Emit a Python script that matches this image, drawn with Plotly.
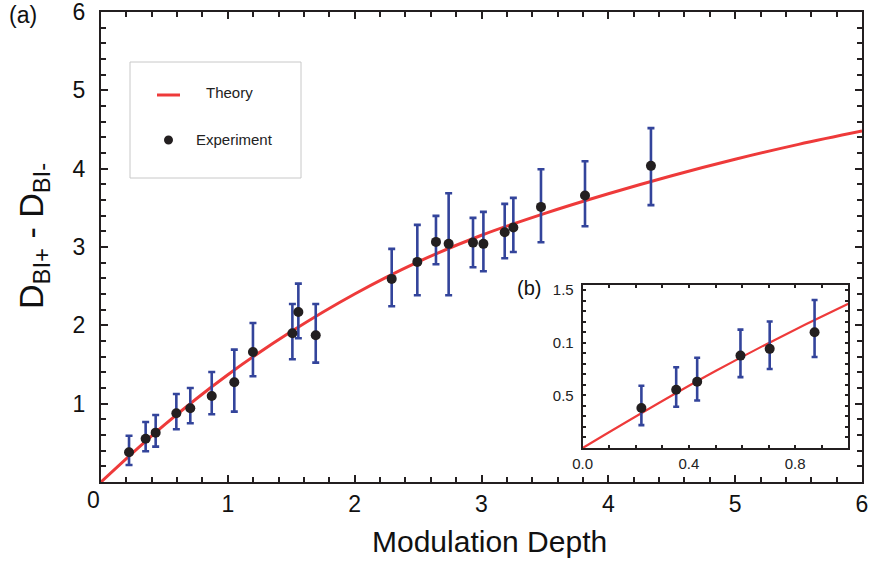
import plotly.graph_objects as go

# ---- data ----
mod_depth = [0.221, 0.352, 0.431, 0.594, 0.704, 0.873, 1.051, 1.198, 1.509, 1.556, 1.693,
             2.292, 2.494, 2.641, 2.741, 2.933, 3.015, 3.183, 3.251, 3.469, 3.816, 4.336]
d_diff = [0.379, 0.553, 0.630, 0.877, 0.941, 1.098, 1.273, 1.660, 1.899, 2.171, 1.873,
          2.593, 2.810, 3.065, 3.040, 3.056, 3.040, 3.189, 3.248, 3.512, 3.657, 4.036]
err_upper = [0.591, 0.766, 0.856, 1.124, 1.200, 1.405, 1.690, 2.030, 2.273, 2.533, 2.273,
             2.976, 3.282, 3.397, 3.687, 3.372, 3.448, 3.550, 3.627, 3.993, 4.095, 4.517]
err_lower = [0.217, 0.392, 0.451, 0.673, 0.750, 0.864, 0.898, 1.350, 1.567, 1.835, 1.524,
             2.244, 2.384, 2.780, 2.384, 2.742, 2.690, 2.857, 2.937, 3.061, 3.265, 3.534]

theory_x = [0.0, 0.5, 1.0, 1.5, 2.0, 2.5, 3.0, 3.5, 4.0, 4.5, 5.0, 5.5, 6.0]
theory_y = [0.0, 0.73, 1.37, 1.92, 2.40, 2.81, 3.15, 3.43, 3.68, 3.91, 4.12, 4.31, 4.48]

main_xticks = [1, 2, 3, 4, 5, 6]
main_yticks = [1, 2, 3, 4, 5, 6]
inset_xticks = [0.0, 0.4, 0.8]
inset_xticktext = ["0.0", "0.4", "0.8"]
inset_yticks = [0.5, 1.0, 1.5]
inset_yticktext = ["0.5", "0.1", "1.5"]

# ---- styling ----
W, H = 871, 563
ML, MR, MT, MB = 101, 9, 12, 81
PW, PH = W - ML - MR, H - MT - MB
FONT = "Liberation Sans, Arial, Helvetica, sans-serif"
AX = "#231f20"
RED = "#ee3a3a"
BLUE = "#33449b"
DOT = "#231f20"


def px(x):
    return (x - ML) / PW


def py(y):
    return (H - MB - y) / PH


err_plus = [u - v for u, v in zip(err_upper, d_diff)]
err_minus = [v - l for v, l in zip(d_diff, err_lower)]

inset_idx = [i for i, xv in enumerate(mod_depth) if xv <= 1.0]

fig = go.Figure()

# main theory
fig.add_trace(go.Scatter(x=theory_x, y=theory_y, mode="lines",
                         line=dict(color=RED, width=3, shape="spline"),
                         xaxis="x", yaxis="y", showlegend=False, hoverinfo="skip"))
# main experiment
fig.add_trace(go.Scatter(x=mod_depth, y=d_diff, mode="markers",
                         marker=dict(color=DOT, size=10),
                         error_y=dict(type="data", symmetric=False, array=err_plus,
                                      arrayminus=err_minus, color=BLUE, thickness=2.6, width=3.5),
                         xaxis="x", yaxis="y", showlegend=False))

# inset theory
fig.add_trace(go.Scatter(x=theory_x, y=theory_y, mode="lines",
                         line=dict(color=RED, width=2.2, shape="spline"),
                         xaxis="x2", yaxis="y2", showlegend=False, hoverinfo="skip"))
# inset experiment
fig.add_trace(go.Scatter(x=[mod_depth[i] for i in inset_idx],
                         y=[d_diff[i] for i in inset_idx], mode="markers",
                         marker=dict(color=DOT, size=10),
                         error_y=dict(type="data", symmetric=False,
                                      array=[err_plus[i] for i in inset_idx],
                                      arrayminus=[err_minus[i] for i in inset_idx],
                                      color=BLUE, thickness=2.6, width=3),
                         xaxis="x2", yaxis="y2", showlegend=False))

main_axis = dict(showline=True, linecolor=AX, linewidth=2, mirror="ticks",
                 ticks="inside", ticklen=7, tickwidth=2, tickcolor=AX,
                 showgrid=False, zeroline=False, automargin=False,
                 ticklabeloverflow="allow",
                 tickfont=dict(family=FONT, size=23, color="#111"),
                 minor=dict(dtick=0.2, tick0=0, ticks="inside", ticklen=5, tickwidth=2,
                            tickcolor=AX, showgrid=False))

inset_axis = dict(showline=True, linecolor=AX, linewidth=2, mirror="ticks",
                  ticks="inside", ticklen=3, tickwidth=1.5, tickcolor=AX,
                  showgrid=False, zeroline=False, automargin=False,
                  ticklabeloverflow="allow",
                  tickfont=dict(family=FONT, size=15, color="#222"),
                  minor=dict(dtick=0.1, tick0=0, ticks="inside", ticklen=3, tickwidth=1.5,
                             tickcolor=AX, showgrid=False))

fig.update_layout(
    width=W, height=H,
    margin=dict(l=ML, r=MR, t=MT, b=MB, pad=0, autoexpand=False),
    paper_bgcolor="white", plot_bgcolor="white",
    showlegend=False,
    xaxis=dict(main_axis, range=[0, 6], tickvals=main_xticks, domain=[0, 1],
               anchor="y", ticklabelstandoff=0),
    yaxis=dict(main_axis, range=[0, 6], tickvals=main_yticks, domain=[0, 1],
               anchor="x", ticklabelstandoff=9),
    xaxis2=dict(inset_axis, range=[0, 1.0], tickvals=inset_xticks, ticktext=inset_xticktext,
                domain=[px(582.7), px(848.3)], anchor="y2", ticklabelstandoff=1),
    yaxis2=dict(inset_axis, range=[0, 1.55], tickvals=inset_yticks, ticktext=inset_yticktext,
                domain=[py(448), py(284.7)], anchor="x2", ticklabelstandoff=4),
)

annotations = [
    # x-axis "0" label, set slightly left of the corner as in the reference
    dict(text="0", x=0, y=0, xref="x", yref="y", xanchor="center", yanchor="top",
         xshift=-8, yshift=-3, showarrow=False, font=dict(family=FONT, size=23, color="#111")),
    dict(text="Modulation Depth", x=px(489), y=py(541), xref="paper", yref="paper",
         xanchor="center", yanchor="middle", showarrow=False,
         font=dict(family=FONT, size=30, color="#111")),
    dict(text="D<sub>BI+</sub> - D<sub>BI-</sub>", x=px(33), y=py(236), xref="paper", yref="paper",
         xanchor="center", yanchor="middle", textangle=-90, showarrow=False,
         font=dict(family=FONT, size=34, color="#111")),
    dict(text="(a)", x=px(23), y=py(15), xref="paper", yref="paper",
         xanchor="center", yanchor="middle", showarrow=False,
         font=dict(family=FONT, size=23, color="#111")),
    dict(text="(b)", x=px(529), y=py(288), xref="paper", yref="paper",
         xanchor="center", yanchor="middle", showarrow=False,
         font=dict(family=FONT, size=20, color="#111")),
    dict(text="Theory", x=px(204), y=py(93), xref="paper", yref="paper",
         xanchor="left", yanchor="middle", showarrow=False,
         font=dict(family=FONT, size=15, color="#222")),
    dict(text="Experiment", x=px(194), y=py(139), xref="paper", yref="paper",
         xanchor="left", yanchor="middle", showarrow=False,
         font=dict(family=FONT, size=15, color="#222")),
]

shapes = [
    dict(type="rect", xref="paper", yref="paper", x0=px(130), x1=px(301), y0=py(178), y1=py(62),
         line=dict(color="#c8c8c8", width=1), fillcolor="white", layer="below"),
    dict(type="line", xref="paper", yref="paper", x0=px(157), x1=px(180), y0=py(95), y1=py(95),
         line=dict(color=RED, width=3)),
    dict(type="circle", xref="paper", yref="paper", x0=px(164), x1=px(173), y0=py(144.5), y1=py(135.5),
         line=dict(color=DOT, width=0), fillcolor=DOT),
]

fig.update_layout(annotations=annotations, shapes=shapes)

fig.write_html("out.html")
